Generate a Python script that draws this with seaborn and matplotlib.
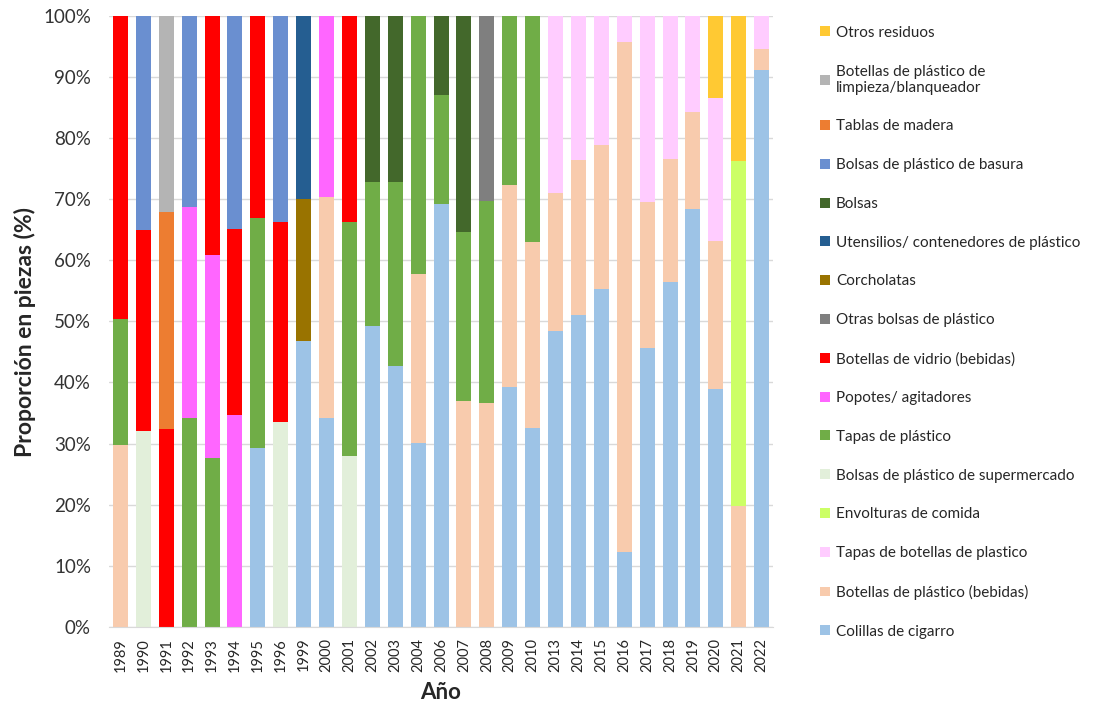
import pandas as pd
import seaborn as sns
import matplotlib.pyplot as plt
from matplotlib.patches import Patch

# Years shown on the x axis (not continuous)
years = ['1989', '1990', '1991', '1992', '1993', '1994', '1995', '1996', '1999', '2000',
         '2001', '2002', '2003', '2004', '2006', '2007', '2008', '2009', '2010', '2013',
         '2014', '2015', '2016', '2017', '2018', '2019', '2020', '2021', '2022']

# Share of pieces (%) per category, bottom of the stack first
colillas = [0, 0, 0, 0, 0, 0, 29.2, 0, 46.8, 34.2, 0, 49.3, 42.7, 30.1, 69.2, 0, 0, 39.3, 32.6,
            48.5, 51.0, 55.3, 12.2, 45.6, 56.4, 68.4, 38.9, 0, 91.1]
bot_plastico = [29.7, 0, 0, 0, 0, 0, 0, 0, 0, 36.1, 0, 0, 0, 27.7, 0, 36.9, 36.6, 33.1, 30.4,
                22.5, 25.4, 23.6, 83.6, 23.9, 20.2, 15.9, 24.3, 19.8, 3.5]
tapas_botellas = [0, 0, 0, 0, 0, 0, 0, 0, 0, 0, 0, 0, 0, 0, 0, 0, 0, 0, 0,
                  29.0, 23.6, 21.1, 4.2, 30.5, 23.4, 15.7, 23.3, 0, 5.4]
envolturas = [0, 0, 0, 0, 0, 0, 0, 0, 0, 0, 0, 0, 0, 0, 0, 0, 0, 0, 0,
              0, 0, 0, 0, 0, 0, 0, 0, 56.4, 0]
supermercado = [0, 32.1, 0, 0, 0, 0, 0, 33.5, 0, 0, 27.9, 0, 0, 0, 0, 0, 0, 0, 0,
                0, 0, 0, 0, 0, 0, 0, 0, 0, 0]
tapas_plastico = [20.7, 0, 0, 34.2, 27.7, 0, 37.8, 0, 0, 0, 38.4, 23.5, 30.1, 42.2, 17.8, 27.8,
                  33.1, 27.6, 37.0, 0, 0, 0, 0, 0, 0, 0, 0, 0, 0]
popotes = [0, 0, 0, 34.6, 33.2, 34.6, 0, 0, 0, 29.7, 0, 0, 0, 0, 0, 0, 0, 0, 0,
           0, 0, 0, 0, 0, 0, 0, 0, 0, 0]
vidrio = [49.6, 32.9, 32.4, 0, 39.1, 30.6, 33.0, 32.8, 0, 0, 33.7, 0, 0, 0, 0, 0, 0, 0, 0,
          0, 0, 0, 0, 0, 0, 0, 0, 0, 0]
otras_bolsas = [0, 0, 0, 0, 0, 0, 0, 0, 0, 0, 0, 0, 0, 0, 0, 0, 30.3, 0, 0,
                0, 0, 0, 0, 0, 0, 0, 0, 0, 0]
corcholatas = [0, 0, 0, 0, 0, 0, 0, 0, 23.2, 0, 0, 0, 0, 0, 0, 0, 0, 0, 0,
               0, 0, 0, 0, 0, 0, 0, 0, 0, 0]
utensilios = [0, 0, 0, 0, 0, 0, 0, 0, 30.0, 0, 0, 0, 0, 0, 0, 0, 0, 0, 0,
              0, 0, 0, 0, 0, 0, 0, 0, 0, 0]
bolsas = [0, 0, 0, 0, 0, 0, 0, 0, 0, 0, 0, 27.2, 27.2, 0, 13.0, 35.3, 0, 0, 0,
          0, 0, 0, 0, 0, 0, 0, 0, 0, 0]
bolsas_basura = [0, 35.0, 0, 31.2, 0, 34.8, 0, 33.7, 0, 0, 0, 0, 0, 0, 0, 0, 0, 0, 0,
                 0, 0, 0, 0, 0, 0, 0, 0, 0, 0]
tablas = [0, 0, 35.5, 0, 0, 0, 0, 0, 0, 0, 0, 0, 0, 0, 0, 0, 0, 0, 0,
          0, 0, 0, 0, 0, 0, 0, 0, 0, 0]
limpieza = [0, 0, 32.1, 0, 0, 0, 0, 0, 0, 0, 0, 0, 0, 0, 0, 0, 0, 0, 0,
            0, 0, 0, 0, 0, 0, 0, 0, 0, 0]
otros = [0, 0, 0, 0, 0, 0, 0, 0, 0, 0, 0, 0, 0, 0, 0, 0, 0, 0, 0,
         0, 0, 0, 0, 0, 0, 0, 13.5, 23.8, 0]

series = [
    ('Colillas de cigarro', colillas, '#9DC3E6'),
    ('Botellas de plástico (bebidas)', bot_plastico, '#F8CBAD'),
    ('Tapas de botellas de plastico', tapas_botellas, '#FFCCFF'),
    ('Envolturas de comida', envolturas, '#CCFF66'),
    ('Bolsas de plástico de supermercado', supermercado, '#E2EFDA'),
    ('Tapas de plástico', tapas_plastico, '#70AD47'),
    ('Popotes/ agitadores', popotes, '#FF66FF'),
    ('Botellas de vidrio (bebidas)', vidrio, '#FF0000'),
    ('Otras bolsas de plástico', otras_bolsas, '#7F7F7F'),
    ('Corcholatas', corcholatas, '#997300'),
    ('Utensilios/ contenedores de plástico', utensilios, '#255E91'),
    ('Bolsas', bolsas, '#43682B'),
    ('Bolsas de plástico de basura', bolsas_basura, '#6A8FD0'),
    ('Tablas de madera', tablas, '#ED7D31'),
    ('Botellas de plástico de\nlimpieza/blanqueador', limpieza, '#B4B4B4'),
    ('Otros residuos', otros, '#FFC933'),
]

df = pd.DataFrame({name: vals for name, vals, _ in series}, index=years)
df = df.div(df.sum(axis=1), axis=0) * 100
cum = df.cumsum(axis=1)

sns.set_style('white')
plt.rcParams['font.family'] = ['Lato', 'DejaVu Sans']

fig = plt.figure(figsize=(11.08, 7.06), dpi=100)
ax = fig.add_axes([0.0984, 0.1123, 0.5993, 0.865])
ax.set_axisbelow(True)
ax.yaxis.grid(True, color='#d9d9d9', linewidth=1)

# draw cumulative tops from the top layer down, so lower layers cover them
for name, _, color in reversed(series):
    sns.barplot(x=years, y=cum[name].values, color=color, width=0.655,
                saturation=1, linewidth=0, edgecolor='none', ax=ax, order=years)

ax.set_ylim(0, 100)
ax.set_xlim(-0.5, len(years) - 0.5)
ax.set_yticks(range(0, 101, 10))
ax.set_yticklabels([f'{v}%' for v in range(0, 101, 10)], fontsize=13.5, color='#333333')
ax.tick_params(axis='x', labelrotation=90, labelsize=10.5, length=0, pad=8)
ax.tick_params(axis='y', length=0, pad=13)
for s in ['top', 'right', 'left']:
    ax.spines[s].set_visible(False)
ax.spines['bottom'].set_color('#d9d9d9')

ax.set_xlabel('Año', fontsize=16, fontweight='bold', labelpad=7)
ax.set_ylabel('Proporción en piezas (%)', fontsize=16.5, fontweight='bold')
ax.yaxis.set_label_coords(-0.110, 0.483)

handles = [Patch(facecolor=c, edgecolor='none', label=n) for n, _, c in reversed(series)]
fig.legend(handles=handles, loc='upper left', bbox_to_anchor=(0.728, 0.983),
           frameon=False, fontsize=11, handlelength=0.62, handleheight=0.62,
           handletextpad=0.4, labelspacing=1.62)

plt.savefig('out.png', dpi=100)
plt.close()
